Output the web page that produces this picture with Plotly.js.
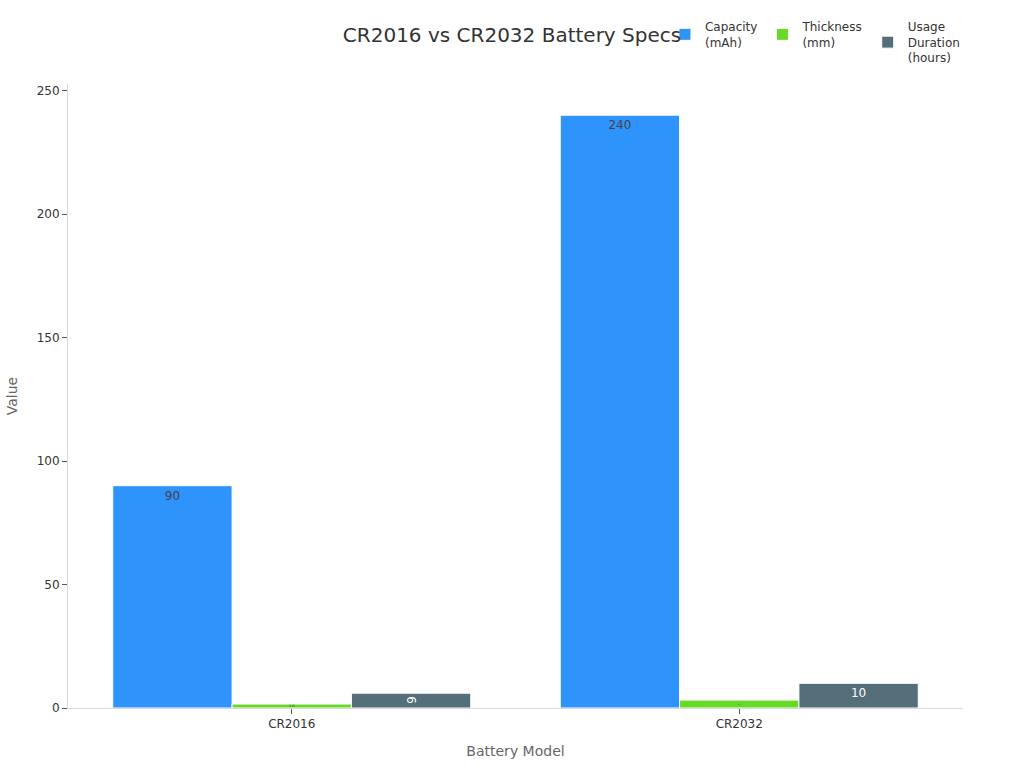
<!DOCTYPE html>
<html>
<head>
<meta charset="utf-8">
<script src="https://cdn.plot.ly/plotly-3.0.1.min.js"></script>
<style>
  html, body { margin: 0; padding: 0; background: #fff; }
  #chart { width: 1024px; height: 768px; }
</style>
</head>
<body>
<div id="chart"></div>
<script>
// ── Data ──────────────────────────────────────────────────────────────────────
const models    = ['CR2016', 'CR2032'];
const capacity  = [90, 240];     // mAh
const thickness = [1.6, 3.2];    // mm
const usage     = [6, 10];       // hours

const seriesNames  = ['Capacity<br>(mAh)', 'Thickness<br>(mm)', 'Usage<br>Duration<br>(hours)'];
const seriesColors = ['#2E93FA', '#66DA26', '#546E7A'];

const FONT = 'DejaVu Sans, sans-serif';

const mkBar = (ys, i) => ({
  type: 'bar',
  x: models, y: ys,
  name: seriesNames[i],
  text: ys.map(String),
  textposition: 'inside',
  insidetextanchor: 'end',
  textfont: { family: FONT, size: 12 },
  marker: { color: seriesColors[i], line: { color: '#ffffff', width: 1 } },
  hovertemplate: '%{x}: %{y}<extra></extra>',
});

Plotly.newPlot('chart', [
  mkBar(capacity, 0),
  mkBar(thickness, 1),
  mkBar(usage, 2),
], {
  width: 1024, height: 768,
  paper_bgcolor: '#ffffff', plot_bgcolor: '#ffffff',
  font: { family: FONT, color: '#333333', size: 12 },
  margin: { t: 84, r: 61, b: 60, l: 68 },
  title: {
    text: 'CR2016 vs CR2032 Battery Specs',
    font: { family: FONT, size: 20, color: '#333333' },
    x: 0.5, xanchor: 'center', y: 0.954, yanchor: 'middle',
  },
  barmode: 'group', bargap: 0.2, bargroupgap: 0,
  xaxis: {
    title: { text: 'Battery Model', font: { size: 14, color: '#666666' }, standoff: 15 },
    showline: true, linecolor: '#d9d9d9', linewidth: 1,
    ticks: 'outside', tickcolor: '#555555', ticklen: 5,
    showgrid: false, zeroline: false,
  },
  yaxis: {
    title: { text: 'Value', font: { size: 14, color: '#666666' }, standoff: 15 },
    showline: true, linecolor: '#d9d9d9', linewidth: 1,
    ticks: 'outside', tickcolor: '#555555', ticklen: 5,
    showgrid: false, zeroline: false,
    dtick: 50, rangemode: 'tozero',
  },
  legend: {
    orientation: 'h',
    x: 0.667, xanchor: 'left', y: 1.115, yanchor: 'top',
    font: { family: FONT, size: 12, color: '#333333' },
    bgcolor: 'rgba(0,0,0,0)',
  },
  showlegend: true,
}, { displayModeBar: false });
</script>
</body>
</html>
